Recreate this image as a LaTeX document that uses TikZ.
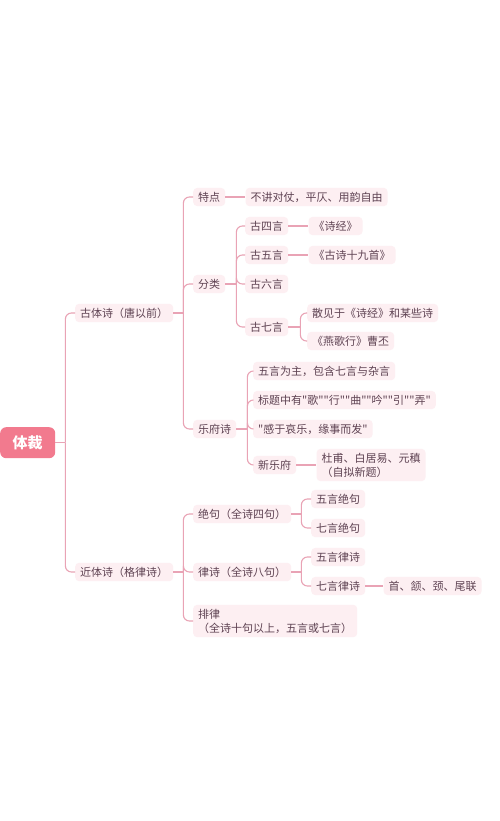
\documentclass[tikz,border=0pt]{standalone}
\usepackage{fontspec}
\setmainfont{Noto Sans CJK SC}[Ligatures=TeXOff]
\usepackage{xcolor}
\usetikzlibrary{positioning,calc}

\definecolor{rootpink}{HTML}{F27A8E}
\definecolor{linkpink}{HTML}{E9A3B5}
\definecolor{boxpink}{HTML}{FDEFF2}
\definecolor{inkbrown}{HTML}{5E4252}

\begin{document}
\begin{tikzpicture}[
    x=1pt, y=-1pt,
    node distance=20pt,
    topic/.style={rectangle, rounded corners=4pt, fill=boxpink, text=inkbrown, inner xsep=5pt, inner ysep=4pt, anchor=west, align=left, font=\fontsize{11}{14}\selectfont},
    rootbox/.style={rectangle, rounded corners=6pt, fill=rootpink, text=white, minimum width=55pt, minimum height=31pt, font=\fontsize{15}{18}\selectfont\bfseries},
    conn/.style={draw=linkpink, line width=1.1pt, rounded corners=6pt},
]
    \fill[white] (0,0) rectangle (500,821);

    % Root
    \node[rootbox, anchor=north west] (ticai) at (0,427) {体裁};
    \coordinate (trunk) at ($(ticai.east)+(10,0)$);

    % First level
    \node[topic] (gtp) at (75,313) {古体诗（唐以前）};
    \node[topic] (jtp) at (75,572) {近体诗（格律诗）};

    % 古体诗 branch
    \node[topic] (tedian) at (193,197) {特点};
    \node[topic, right=of tedian] (tdtext) {不讲对仗，平仄、用韵自由};
    \node[topic] (fenlei) at (193,284) {分类};
    \node[topic] (gsy) at (245,226) {古四言};
    \node[topic, right=of gsy] (shijing) {《诗经》};
    \node[topic] (gwy) at (245,255) {古五言};
    \node[topic, right=of gwy] (gsjs) {《古诗十九首》};
    \node[topic] (gly) at (245,284) {古六言};
    \node[topic] (gqy) at (245,327) {古七言};
    \node[topic] (sanjian) at (307,313) {散见于《诗经》和某些诗};
    \node[topic] (yangexing) at (307,341) {《燕歌行》曹丕};
    \node[topic] (yuefu) at (193,429) {乐府诗};
    \node[topic] (wyzw) at (253,371) {五言为主，包含七言与杂言};
    \node[topic] (biaoti) at (253,400) {标题中有"歌""行""曲""吟""引""弄"};
    \node[topic] (ganyu) at (253,429) {"感于哀乐，缘事而发"};
    \node[topic] (xinyuefu) at (253,465) {新乐府};
    \node[topic, right=of xinyuefu] (dufu) {杜甫、白居易、元稹\\（自拟新题）};

    % 近体诗 branch
    \node[topic] (jueju) at (193,514) {绝句（全诗四句）};
    \node[topic] (wyjj) at (311,499) {五言绝句};
    \node[topic] (qyjj) at (311,528) {七言绝句};
    \node[topic] (lvshi) at (193,572) {律诗（全诗八句）};
    \node[topic] (wyls) at (311,557) {五言律诗};
    \node[topic] (qyls) at (311,586) {七言律诗};
    \node[topic, right=18pt of qyls] (lianju) {首、颔、颈、尾联};
    \node[topic] (pailv) at (193,621) {排律\\（全诗十句以上，五言或七言）};

    % Brackets
    \coordinate (gtb) at ($(gtp.east)+(10,0)$);
    \coordinate (flb) at ($(fenlei.east)+(11,0)$);
    \coordinate (gqb) at ($(gqy.east)+(12,0)$);
    \coordinate (yfb) at ($(yuefu.east)+(11,0)$);
    \coordinate (jtb) at ($(jtp.east)+(10,0)$);
    \coordinate (jjb) at ($(jueju.east)+(10,0)$);
    \coordinate (lsb) at ($(lvshi.east)+(10,0)$);

    \draw[conn] (ticai.east) -- (trunk);
    \foreach \kid in {gtp,jtp} \draw[conn] (trunk) |- (\kid.west);

    \draw[conn] (gtp.east) -- (gtb);
    \foreach \kid in {tedian,fenlei,yuefu} \draw[conn] (gtb) |- (\kid.west);
    \draw[conn] (tedian.east) -- (tdtext.west);

    \draw[conn] (fenlei.east) -- (flb);
    \foreach \kid in {gsy,gwy,gly,gqy} \draw[conn] (flb) |- (\kid.west);
    \draw[conn] (gsy.east) -- (shijing.west);
    \draw[conn] (gwy.east) -- (gsjs.west);
    \draw[conn] (gqy.east) -- (gqb);
    \foreach \kid in {sanjian,yangexing} \draw[conn] (gqb) |- (\kid.west);

    \draw[conn] (yuefu.east) -- (yfb);
    \foreach \kid in {wyzw,biaoti,ganyu,xinyuefu} \draw[conn] (yfb) |- (\kid.west);
    \draw[conn] (xinyuefu.east) -- (dufu.west);

    \draw[conn] (jtp.east) -- (jtb);
    \foreach \kid in {jueju,lvshi,pailv} \draw[conn] (jtb) |- (\kid.west);
    \draw[conn] (jueju.east) -- (jjb);
    \foreach \kid in {wyjj,qyjj} \draw[conn] (jjb) |- (\kid.west);
    \draw[conn] (lvshi.east) -- (lsb);
    \foreach \kid in {wyls,qyls} \draw[conn] (lsb) |- (\kid.west);
    \draw[conn] (qyls.east) -- (lianju.west);
\end{tikzpicture}
\end{document}
